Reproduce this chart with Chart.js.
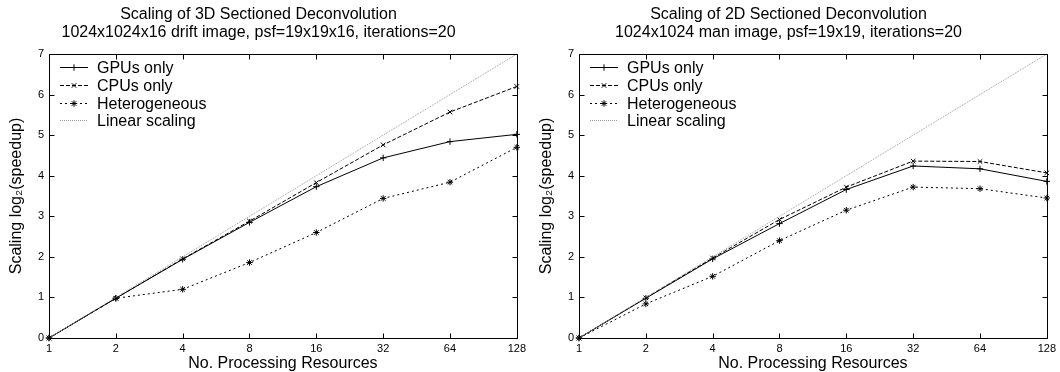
<!DOCTYPE html>
<html>
<head>
<meta charset="utf-8">
<script src="https://cdn.jsdelivr.net/npm/chart.js@4"></script>
<style>
  html, body { margin: 0; padding: 0; background: #fff; }
  #wrap { width: 1060px; height: 372px; display: flex; }
  canvas { display: block; }
</style>
</head>
<body>
<div id="wrap">
  <canvas id="c1" width="530" height="372"></canvas>
  <canvas id="c2" width="530" height="372"></canvas>
</div>
<script>
const resources = ['1', '2', '4', '8', '16', '32', '64', '128'];
const seriesNames = ['GPUs only', 'CPUs only', 'Heterogeneous', 'Linear scaling'];
const yTicks = [0, 1, 2, 3, 4, 5, 6, 7];

const gpu3d = [0, 0.98, 1.94, 2.85, 3.73, 4.44, 4.84, 5.02];
const cpu3d = [0, 0.98, 1.95, 2.88, 3.83, 4.76, 5.57, 6.20];
const het3d = [0, 0.98, 1.20, 1.86, 2.60, 3.44, 3.84, 4.70];

const gpu2d = [0, 0.98, 1.95, 2.82, 3.66, 4.24, 4.17, 3.86];
const cpu2d = [0, 0.99, 1.97, 2.92, 3.72, 4.36, 4.35, 4.07];
const het2d = [0, 0.84, 1.52, 2.40, 3.15, 3.72, 3.68, 3.45];

const linearScaling = [0, 1, 2, 3, 4, 5, 6, 7];

const title3d = ['Scaling of 3D Sectioned Deconvolution', '1024x1024x16 drift image, psf=19x19x16, iterations=20'];
const title2d = ['Scaling of 2D Sectioned Deconvolution', '1024x1024 man image, psf=19x19, iterations=20'];
const xTitle = 'No. Processing Resources';
const yTitle = 'Scaling log\u2082(speedup)';

const FONT = "'Liberation Sans', Arial, Helvetica, sans-serif";

const styles = [
  { borderDash: [], pointStyle: 'cross', color: '#000' },
  { borderDash: [4, 2], pointStyle: 'crossRot', color: '#000' },
  { borderDash: [2, 3], pointStyle: 'star', color: '#000' },
  { borderDash: [1, 1], pointStyle: false, color: '#999' }
];

function makeDatasets(gpu, cpu, het) {
  return [gpu, cpu, het, linearScaling].map((d, i) => ({
    label: seriesNames[i],
    data: d,
    borderColor: styles[i].color,
    backgroundColor: 'transparent',
    borderWidth: 1,
    borderDash: styles[i].borderDash,
    pointStyle: styles[i].pointStyle,
    pointRadius: styles[i].pointStyle ? 3.2 : 0,
    pointBorderColor: '#000',
    pointBorderWidth: 1,
    tension: 0,
    clip: false,
    order: 3 - i
  }));
}

const framePlugin = {
  id: 'frame',
  afterDatasetsDraw(chart) {
    const { ctx, chartArea: a, scales } = chart;
    ctx.save();
    ctx.strokeStyle = '#000';
    ctx.lineWidth = 1;
    ctx.setLineDash([]);
    ctx.beginPath();
    const L = Math.round(a.left) + 0.5, R = Math.round(a.right) + 0.5;
    const T = Math.round(a.top) + 0.5, B = Math.round(a.bottom) + 0.5;
    ctx.rect(L, T, R - L, B - T);
    const tl = 5;
    scales.x.ticks.forEach((t, i) => {
      const px = Math.round(scales.x.getPixelForTick(i)) + 0.5;
      ctx.moveTo(px, B); ctx.lineTo(px, B - tl);
      ctx.moveTo(px, T); ctx.lineTo(px, T + tl);
    });
    scales.y.ticks.forEach((t) => {
      const py = Math.round(scales.y.getPixelForValue(t.value)) + 0.5;
      ctx.moveTo(L, py); ctx.lineTo(L + tl, py);
      ctx.moveTo(R, py); ctx.lineTo(R - tl, py);
    });
    ctx.stroke();

    // legend inside plot (top-left)
    const x0 = a.left + 11, x1 = a.left + 39, tx = a.left + 48;
    ctx.font = '16px ' + FONT;
    ctx.textBaseline = 'middle';
    ctx.textAlign = 'left';
    chart.data.datasets.forEach((ds, i) => {
      const y = Math.round(a.top + 13 + 17.8 * i) + 0.5;
      ctx.save();
      ctx.strokeStyle = ds.borderColor;
      ctx.setLineDash(ds.borderDash);
      ctx.beginPath();
      ctx.moveTo(x0, y); ctx.lineTo(x1, y);
      ctx.stroke();
      ctx.restore();
      if (ds.pointStyle) {
        ctx.save();
        ctx.strokeStyle = '#000';
        ctx.fillStyle = 'transparent';
        ctx.lineWidth = 1;
        Chart.helpers.drawPoint(ctx, { pointStyle: ds.pointStyle, radius: 3.2, borderWidth: 1, rotation: 0 }, (x0 + x1) / 2, y);
        ctx.restore();
      }
      ctx.fillStyle = '#000';
      ctx.fillText(ds.label, tx, y + 1);
    });
    ctx.restore();
  }
};

function makeChart(id, titleLines, gpu, cpu, het) {
  return new Chart(document.getElementById(id), {
    type: 'line',
    data: { labels: resources, datasets: makeDatasets(gpu, cpu, het) },
    plugins: [framePlugin],
    options: {
      responsive: false,
      animation: false,
      devicePixelRatio: 1,
      layout: { padding: { left: 0, right: 13, top: 0, bottom: 0 } },
      plugins: {
        legend: { display: false },
        tooltip: { enabled: false },
        title: {
          display: true,
          text: titleLines,
          color: '#000',
          font: { family: FONT, size: 16, weight: 'normal', lineHeight: 1.15 },
          padding: { top: 5, bottom: 12.2 }
        }
      },
      scales: {
        x: {
          type: 'category',
          offset: false,
          grid: { display: false, drawTicks: false },
          border: { display: false },
          ticks: { color: '#000', font: { family: FONT, size: 11 }, padding: 4, maxRotation: 0, autoSkip: false },
          title: { display: true, text: xTitle, color: '#000', font: { family: FONT, size: 16, lineHeight: 1.0 }, padding: { top: 0, bottom: 0 } },
          afterFit(scale) { scale.height = 34; }
        },
        y: {
          type: 'linear',
          min: 0, max: 7,
          afterBuildTicks(scale) { scale.ticks = yTicks.map(v => ({ value: v })); },
          grid: { display: false, drawTicks: false },
          border: { display: false },
          ticks: { color: '#000', font: { family: FONT, size: 11 }, padding: 5 },
          title: { display: true, text: yTitle, color: '#000', font: { family: FONT, size: 16 }, padding: { top: 7, bottom: 0 } },
          afterFit(scale) { scale.width = 49; }
        }
      }
    }
  });
}

makeChart('c1', title3d, gpu3d, cpu3d, het3d);
makeChart('c2', title2d, gpu2d, cpu2d, het2d);
</script>
</body>
</html>
